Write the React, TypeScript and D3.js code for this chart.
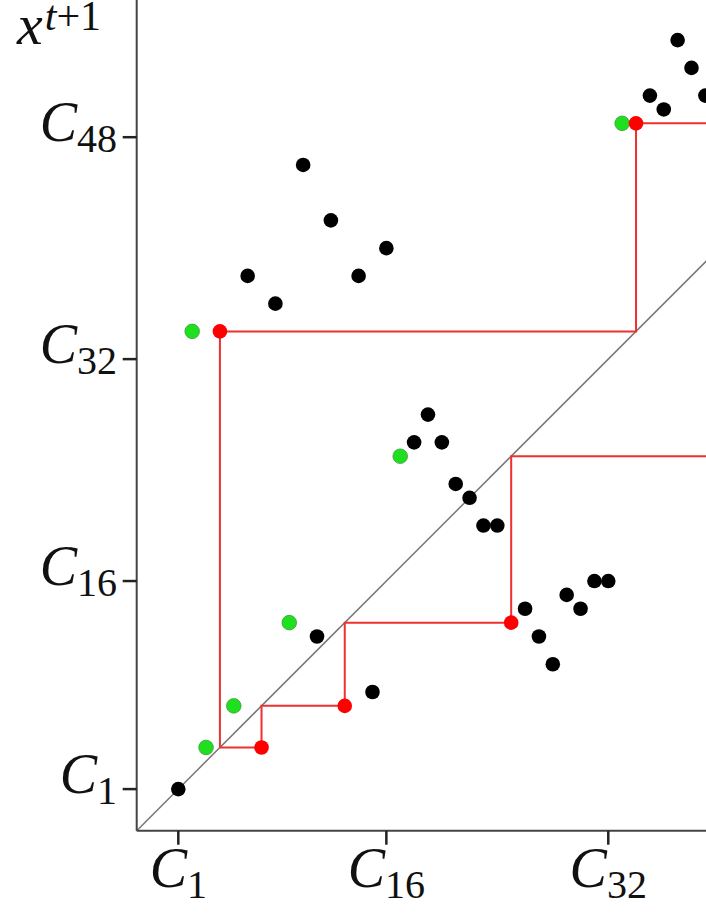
import * as d3 from "d3";

// Cobweb plot of x^{t+1} against x^t, in C-index units
const blackX = [1, 11, 15, 26, 27, 28, 29, 30, 31, 32, 18, 19, 20, 21, 22, 23, 24, 8, 6, 10, 12, 14, 16, 35, 36, 37, 38, 39];
const blackY = [1, 12, 8, 14, 12, 10, 15, 14, 16, 16, 26, 28, 26, 23, 22, 20, 20, 36, 38, 46, 42, 38, 40, 51, 50, 55, 53, 51];
const greenX = [3, 5, 9, 17, 2, 33];
const greenY = [4, 7, 13, 25, 34, 49];
const redX = [7, 13, 25, 4, 34];
const redY = [4, 7, 13, 34, 49];

const domainMax = 66;
// staircase vertices; the last leg runs off to the right edge of the domain
const webAX = [4, 7, 7, 13, 13, 25, 25, domainMax];
const webAY = [4, 4, 7, 7, 13, 13, 25, 25];
const webBX = [4, 4, 34, 34, domainMax];
const webBY = [4, 34, 34, 49, 49];

// only the ticks that fall inside the visible crop
const xTicks = [1, 16, 32];
const yTicks = [1, 16, 32, 48];

const mathFont = "'Liberation Serif', 'DejaVu Serif', serif";

function Label({ sub }: { sub: number }) {
  return (
    <>
      <tspan fontStyle="italic" fontSize={56}>C</tspan>
      <tspan fontSize={40} dy={11}>{sub}</tspan>
    </>
  );
}

export default function App() {
  const width = 706;
  const height = 913;
  const origin = { x: 136.7, y: 830.7 };
  const step = 13.87;
  const span = (domainMax + 2) * step;

  const x = d3.scaleLinear().domain([-2, domainMax]).range([origin.x, origin.x + span]);
  const y = d3.scaleLinear().domain([-2, domainMax]).range([origin.y, origin.y - span]);

  const line = d3
    .line<[number, number]>()
    .x((d) => x(d[0]))
    .y((d) => y(d[1]));

  const webA = line(webAX.map((v, i) => [v, webAY[i]]));
  const webB = line(webBX.map((v, i) => [v, webBY[i]]));

  return (
    <svg
      width={width}
      height={height}
      style={{ position: "absolute", left: 0, top: 0, background: "#fff" }}
      fontFamily={mathFont}
    >
      {/* diagonal x^{t+1} = x^t */}
      <line x1={x(-2)} y1={y(-2)} x2={x(domainMax)} y2={y(domainMax)} stroke="#777" strokeWidth={1.5} />

      <path d={webA ?? ""} fill="none" stroke="#ee3030" strokeWidth={2} />
      <path d={webB ?? ""} fill="none" stroke="#ee3030" strokeWidth={2} />

      {blackX.map((v, i) => (
        <circle key={`b${i}`} cx={x(v)} cy={y(blackY[i])} r={7.3} fill="#000" />
      ))}
      {greenX.map((v, i) => (
        <circle key={`g${i}`} cx={x(v)} cy={y(greenY[i])} r={7.3} fill="#1fe01f" stroke="#3a9a3a" strokeWidth={0.8} />
      ))}
      {redX.map((v, i) => (
        <circle key={`r${i}`} cx={x(v)} cy={y(redY[i])} r={7.3} fill="#ff0000" />
      ))}

      {/* axes */}
      <line x1={origin.x} y1={origin.y} x2={origin.x} y2={0} stroke="#444" strokeWidth={2} />
      <line x1={origin.x} y1={origin.y} x2={width} y2={origin.y} stroke="#444" strokeWidth={2} />

      {xTicks.map((t) => (
        <g key={`xt${t}`}>
          <line x1={x(t)} x2={x(t)} y1={origin.y} y2={origin.y + 14} stroke="#222" strokeWidth={2.5} />
          <text x={x(t)} y={887} textAnchor="middle" fill="#111">
            <Label sub={t} />
          </text>
        </g>
      ))}
      {yTicks.map((t) => (
        <g key={`yt${t}`}>
          <line x1={origin.x - 14} x2={origin.x} y1={y(t)} y2={y(t)} stroke="#222" strokeWidth={2.5} />
          <text x={117} y={y(t) + 4} textAnchor="end" fill="#111">
            <Label sub={t} />
          </text>
        </g>
      ))}

      {/* y title */}
      <text x={17} y={44} fill="#111">
        <tspan fontStyle="italic" fontSize={58}>x</tspan>
        <tspan fontStyle="italic" fontSize={42} dy={-14} dx={2}>t</tspan>
        <tspan fontSize={42}>+1</tspan>
      </text>
    </svg>
  );
}
